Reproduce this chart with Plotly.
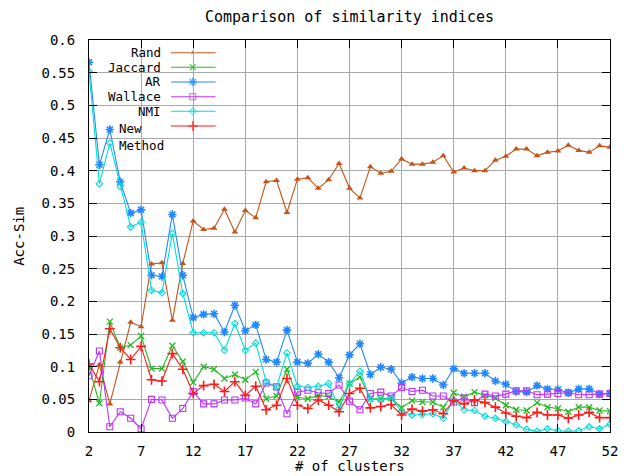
import plotly.graph_objects as go

# Number of clusters on the x axis
clusters = list(range(2, 53))

rand = [0.048, 0.103, 0.043, 0.107, 0.168, 0.161, 0.257, 0.259, 0.171, 0.258,
        0.323, 0.310, 0.312, 0.341, 0.306, 0.339, 0.328, 0.383, 0.385, 0.336,
        0.387, 0.389, 0.373, 0.386, 0.411, 0.373, 0.358, 0.406, 0.396, 0.399,
        0.418, 0.410, 0.410, 0.413, 0.423, 0.398, 0.404, 0.400, 0.400, 0.416,
        0.422, 0.433, 0.433, 0.423, 0.428, 0.430, 0.439, 0.431, 0.428, 0.438,
        0.436]

jaccard = [0.099, 0.044, 0.169, 0.129, 0.133, 0.147, 0.097, 0.097, 0.132, 0.108,
           0.076, 0.100, 0.096, 0.082, 0.088, 0.080, 0.092, 0.051, 0.055, 0.096,
           0.053, 0.051, 0.056, 0.054, 0.046, 0.074, 0.084, 0.051, 0.051, 0.052,
           0.037, 0.048, 0.046, 0.046, 0.038, 0.060, 0.054, 0.061, 0.056, 0.052,
           0.041, 0.034, 0.033, 0.045, 0.038, 0.036, 0.031, 0.038, 0.038, 0.033,
           0.032]

ar = [0.566, 0.409, 0.463, 0.383, 0.335, 0.340, 0.240, 0.238, 0.333, 0.240,
      0.175, 0.180, 0.181, 0.153, 0.194, 0.155, 0.164, 0.111, 0.107, 0.156,
      0.107, 0.105, 0.119, 0.107, 0.083, 0.118, 0.135, 0.088, 0.099, 0.096,
      0.075, 0.084, 0.082, 0.082, 0.072, 0.097, 0.090, 0.090, 0.090, 0.078,
      0.073, 0.062, 0.061, 0.071, 0.066, 0.065, 0.060, 0.066, 0.066, 0.058,
      0.059]

wallace = [0.086, 0.124, 0.008, 0.031, 0.021, 0.005, 0.050, 0.049, 0.021, 0.036,
           0.062, 0.043, 0.043, 0.049, 0.049, 0.052, 0.043, 0.075, 0.069, 0.028,
           0.061, 0.064, 0.060, 0.059, 0.072, 0.047, 0.034, 0.059, 0.061, 0.055,
           0.068, 0.062, 0.064, 0.055, 0.055, 0.046, 0.052, 0.045, 0.058, 0.055,
           0.058, 0.063, 0.063, 0.057, 0.058, 0.059, 0.060, 0.057, 0.057, 0.058,
           0.059]

nmi = [0.552, 0.380, 0.442, 0.376, 0.314, 0.321, 0.217, 0.213, 0.304, 0.212,
       0.152, 0.152, 0.152, 0.125, 0.166, 0.125, 0.136, 0.077, 0.069, 0.121,
       0.070, 0.068, 0.070, 0.074, 0.036, 0.074, 0.093, 0.050, 0.049, 0.052,
       0.031, 0.026, 0.027, 0.028, 0.021, 0.049, 0.034, 0.033, 0.024, 0.021,
       0.016, 0.011, 0.004, 0.001, 0.005, 0.002, 0.001, 0.002, 0.008, 0.005,
       0.012]

new_method = [0.104, 0.077, 0.158, 0.129, 0.111, 0.131, 0.080, 0.078, 0.120, 0.096,
              0.059, 0.071, 0.073, 0.062, 0.077, 0.056, 0.070, 0.034, 0.041, 0.082,
              0.041, 0.036, 0.049, 0.041, 0.031, 0.059, 0.067, 0.037, 0.039, 0.042,
              0.026, 0.035, 0.032, 0.034, 0.028, 0.048, 0.043, 0.049, 0.045, 0.038,
              0.029, 0.024, 0.022, 0.030, 0.026, 0.026, 0.021, 0.026, 0.030, 0.022,
              0.022]

x_ticks = list(range(2, 53, 5))
y_ticks = [round(0.05 * i, 2) for i in range(13)]
y_tick_labels = ["0", "0.05", "0.1", "0.15", "0.2", "0.25", "0.3", "0.35",
                 "0.4", "0.45", "0.5", "0.55", "0.6"]

FONT = "DejaVu Sans Mono"
FS = 14
KEY_FS = 12.5

series = [
    ("Rand", rand, "#c4541a", dict(symbol="triangle-up", size=6)),
    ("Jaccard", jaccard, "#22bb22", dict(symbol="x-thin", size=6, line=dict(width=1.3, color="#22bb22"))),
    ("AR", ar, "#2288ff", dict(symbol="asterisk", size=7, line=dict(width=1.6, color="#2288ff"))),
    ("Wallace", wallace, "#bb33ff", dict(symbol="square-open", size=6, line=dict(width=1.1))),
    ("NMI", nmi, "#00dddd", dict(symbol="diamond-open", size=5, line=dict(width=1.1))),
    ("New Method", new_method, "#ff1a1a", dict(symbol="cross-thin", size=7, line=dict(width=1.6, color="#ff1a1a"))),
]

fig = go.Figure()
for name, vals, color, mk in series:
    fig.add_trace(go.Scatter(
        x=clusters, y=vals, mode="lines+markers", name=name,
        line=dict(color=color, width=1.1),
        marker=dict(color=color, **mk),
        showlegend=False,
    ))

# Pixel geometry of the plotting area
L, R, T, B = 89, 616, 40, 432
W, H = R - L, B - T


def px(xp):
    return (xp - L) / W


def py(yp):
    return (B - yp) / H


def label(text, x, y, anchor, size=FS, angle=0):
    return dict(x=x, y=y, xref="paper", yref="paper", text=text,
                showarrow=False, xanchor=anchor, yanchor="middle",
                textangle=angle, borderpad=0,
                font=dict(family=FONT, size=size, color="black"))


# Key: right-aligned labels, sample line with marker on the right
key_rows = [52.7, 67.3, 82.0, 96.7, 111.3, 126.0]
annotations = []
for (name, vals, color, mk), yrow in zip(series, key_rows):
    fig.add_trace(go.Scatter(
        x=[px(172), px(194), px(217)], y=[py(yrow)] * 3,
        mode="lines+markers", xaxis="x2", yaxis="y2",
        line=dict(color=color, width=1.1),
        marker=dict(color=color, **{**mk, "size": [0, mk["size"], 0]}),
        showlegend=False, hoverinfo="skip",
    ))
    if name != "New Method":
        annotations.append(label(name, px(163), py(yrow), "right", KEY_FS))
annotations.append(label("New", px(118), py(128.5), "left", KEY_FS))
annotations.append(label("Method", px(118), py(145), "left", KEY_FS))
annotations.append(label("# of clusters", 0.5, py(466), "center"))
annotations.append(label("Acc-Sim", px(18), py(236), "center", angle=-90))

fig.update_layout(
    width=630, height=476,
    margin=dict(l=L, r=630 - R, t=T, b=476 - B),
    paper_bgcolor="white", plot_bgcolor="white",
    font=dict(family=FONT, size=FS, color="black"),
    title=dict(text="Comparison of similarity indices", x=0.5, xref="paper",
               y=1 - 17 / 476, yref="container", xanchor="center", yanchor="middle",
               font=dict(family=FONT, size=15, color="black")),
    annotations=annotations,
    shapes=[dict(type="rect", xref="paper", yref="paper",
                 x0=px(97), x1=px(225), y0=py(133), y1=1,
                 fillcolor="white", line=dict(width=0), layer="between")],
    xaxis=dict(range=[2, 52], tickvals=x_ticks, ticks="inside", ticklen=8,
               tickcolor="black", showline=True, linecolor="black", linewidth=1,
               mirror="ticks", showgrid=True, gridcolor="#a8a8a8", gridwidth=1,
               zeroline=False, ticklabelstandoff=6),
    yaxis=dict(range=[0, 0.6], tickvals=y_ticks, ticktext=y_tick_labels,
               ticks="inside", ticklen=8, tickcolor="black", showline=True,
               linecolor="black", linewidth=1, mirror="ticks", showgrid=True,
               gridcolor="#a8a8a8", gridwidth=1, zeroline=False,
               ticklabelstandoff=10),
    xaxis2=dict(range=[0, 1], overlaying="x", visible=False, fixedrange=True),
    yaxis2=dict(range=[0, 1], overlaying="y", visible=False, fixedrange=True),
    showlegend=False,
)

fig.write_html("out.html")
